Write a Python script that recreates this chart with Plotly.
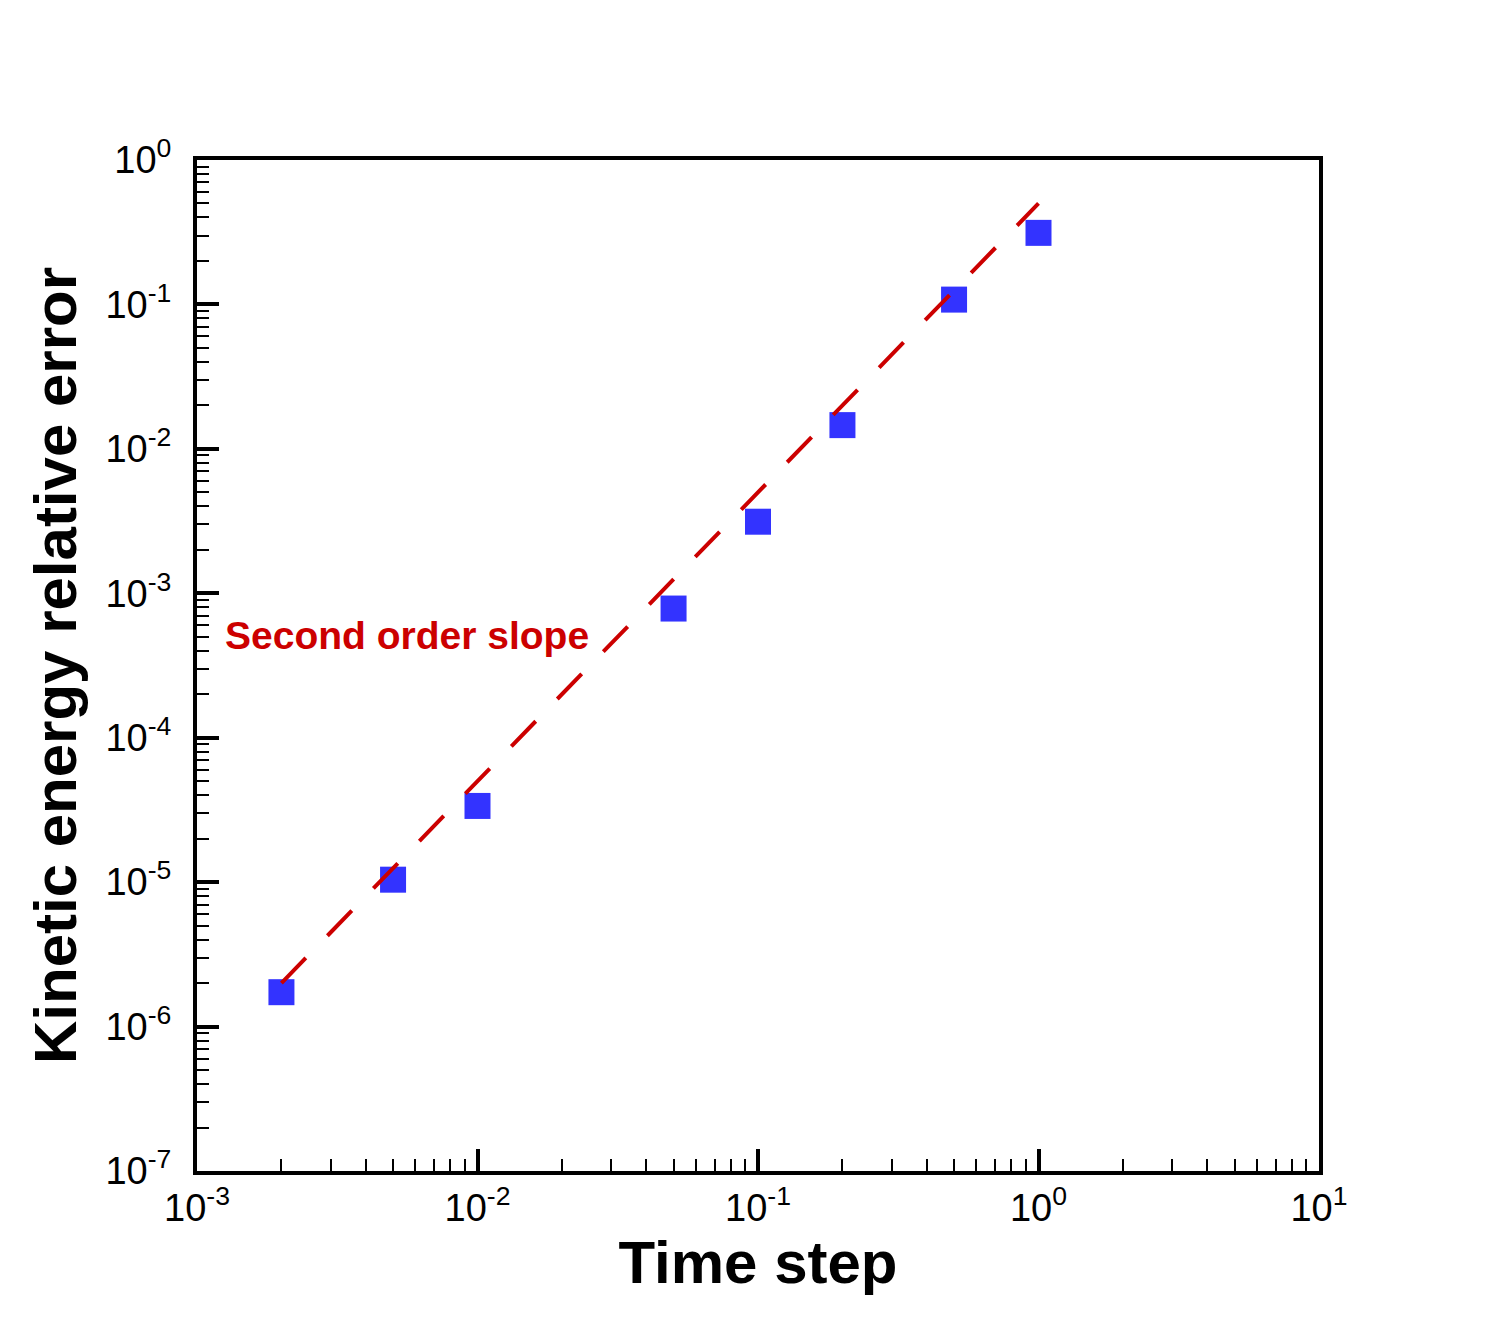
import plotly.graph_objects as go

# measured kinetic energy relative error vs time step
time_step = [0.002, 0.005, 0.01, 0.05, 0.1, 0.2, 0.5, 1.0]
ke_error = [1.73e-6, 1.04e-5, 3.37e-5, 7.84e-4, 3.13e-3, 1.46e-2, 0.108, 0.313]

# reference second order slope: err = 0.5 * dt^2
slope_dt = [0.002, 1.0]
slope_err = [2e-6, 0.5]

x_major = [1e-3, 1e-2, 1e-1, 1e0, 1e1]
x_major_text = ["10<sup>-3</sup>", "10<sup>-2</sup>", "10<sup>-1</sup>", "10<sup>0</sup>", "10<sup>1</sup>"]
y_major = [1e-7, 1e-6, 1e-5, 1e-4, 1e-3, 1e-2, 1e-1, 1e0]
y_major_text = ["10<sup>-7</sup>", "10<sup>-6</sup>", "10<sup>-5</sup>", "10<sup>-4</sup>",
                "10<sup>-3</sup>", "10<sup>-2</sup>", "10<sup>-1</sup>", "10<sup>0</sup>"]


def minor_vals(decades):
    return [m * 10.0 ** d for d in decades for m in range(2, 10)]


FONT = "Liberation Sans, Arial, Helvetica, sans-serif"

fig = go.Figure()
fig.add_trace(go.Scatter(
    x=time_step, y=ke_error, mode="markers", showlegend=False,
    marker=dict(symbol="square", size=26, color="#3333ff", line=dict(width=0)),
))
fig.add_trace(go.Scatter(
    x=slope_dt, y=slope_err, mode="lines", showlegend=False,
    line=dict(color="#cc0000", width=4, dash="35px,31px"),
))

axis_common = dict(
    type="log", showgrid=False, zeroline=False, automargin=False,
    showline=True, linecolor="black", linewidth=4, mirror=True,
    ticks="inside", ticklen=22, tickwidth=4, tickcolor="black",
    tickmode="array", tickfont=dict(family=FONT, size=38, color="black"),
)

fig.update_xaxes(
    **axis_common, range=[-3, 1], tickvals=x_major, ticktext=x_major_text,
    minor=dict(tickmode="array", tickvals=minor_vals(range(-3, 1)),
               ticks="inside", ticklen=12, tickwidth=1.5, tickcolor="black"),
    title=dict(text="<b>Time step</b>", font=dict(family=FONT, size=60, color="black"),
               standoff=0),
)
fig.update_yaxes(
    **axis_common, range=[-7, 0], tickvals=y_major, ticktext=y_major_text,
    ticklabelstandoff=14,
    minor=dict(tickmode="array", tickvals=minor_vals(range(-7, 0)),
               ticks="inside", ticklen=12, tickwidth=1.5, tickcolor="black"),
    title=dict(text="<b>Kinetic energy relative error</b>",
               font=dict(family=FONT, size=60, color="black"), standoff=10),
)

fig.add_annotation(
    x=0.0232, y=0.5296, xref="paper", yref="paper", xanchor="left", yanchor="middle",
    text="<b>Second order slope</b>", showarrow=False,
    font=dict(family=FONT, size=39, color="#cc0000"),
)

# margins allow for the 8px default page margin of the html body
fig.update_layout(
    width=1500, height=1318, template="plotly_white",
    plot_bgcolor="white", paper_bgcolor="white",
    margin=dict(l=189, r=189, t=152, b=155),
    font=dict(family=FONT, color="black"),
)

fig.write_html("out.html")
